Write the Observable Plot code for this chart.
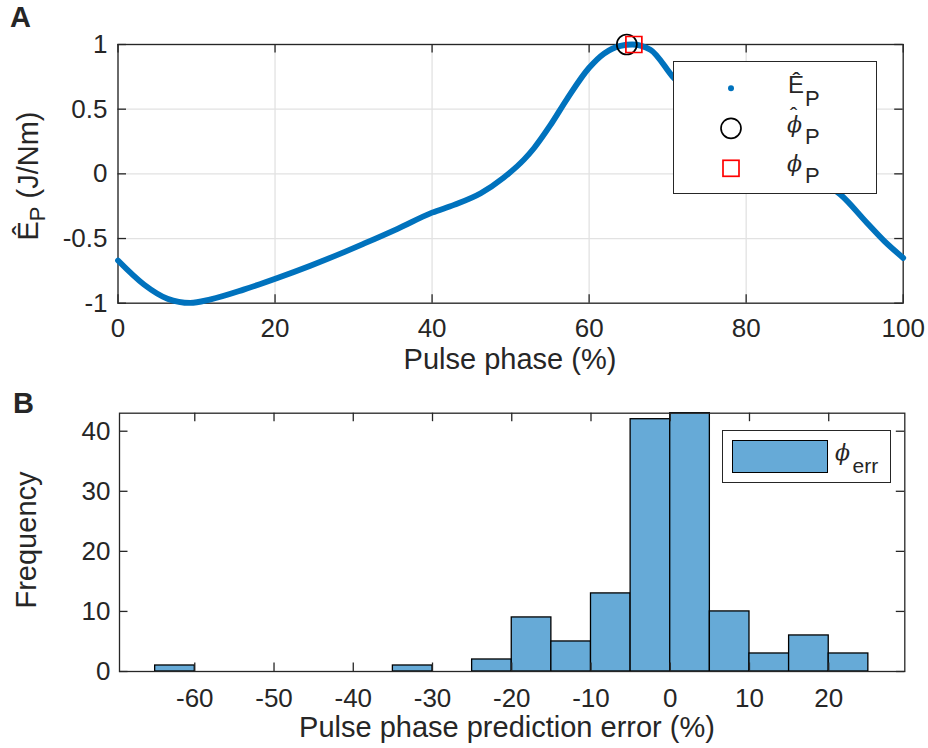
<!DOCTYPE html>
<html><head><meta charset="utf-8">
<script src="https://cdn.jsdelivr.net/npm/d3@7"></script>
<script src="https://cdn.jsdelivr.net/npm/@observablehq/plot@0.6"></script>
<style>
body{margin:0;background:#fff;}
#wrap{position:relative;width:928px;height:748px;overflow:hidden;font-family:"Liberation Sans",Arial,sans-serif;color:#262626;background:#fff;}
.pane{position:absolute;left:0;}
.t{position:absolute;white-space:nowrap;line-height:1;}
.serif{font-family:"DejaVu Serif","Liberation Serif",serif;font-style:italic;}
.box{position:absolute;background:#fff;border:1.3px solid #262626;box-sizing:border-box;}
</style></head><body><div id="wrap"></div>
<script>
// ---------- Data: panel A (energy curve) ----------
const phaseA  = [0, 3.3, 6.3, 9.2, 11.8, 16, 20.3, 24.5, 28.8, 31.3, 35.6, 40, 42.8, 46.2, 49.1, 51.7, 53, 55, 57.2, 60, 61.9, 64, 65.5, 67.8, 70.8, 74, 78, 82, 86, 89, 92, 95.4, 97.6, 100];
const energyA = [-0.67, -0.855, -0.965, -0.998, -0.97, -0.895, -0.805, -0.71, -0.605, -0.54, -0.425, -0.30, -0.24, -0.15, -0.03, 0.11, 0.20, 0.37, 0.58, 0.82, 0.93, 0.99, 1.0, 0.96, 0.74, 0.56, 0.38, 0.22, 0.07, -0.04, -0.16, -0.38, -0.52, -0.65];
const phiHatX = [64.8], phiHatY = [1.0];   // estimated peak
const phiPX   = [65.7], phiPY   = [1.0];   // true peak
const xTicksA = [0, 20, 40, 60, 80, 100];
const yTicksA = [-1, -0.5, 0, 0.5, 1];

// ---------- Data: panel B (histogram) ----------
const binEdges = [-65, -60, -55, -50, -45, -40, -35, -30, -25, -20, -15, -10, -5, 0, 5, 10, 15, 20, 25];
const counts   = [1, 0, 0, 0, 0, 0, 1, 0, 2, 9, 5, 13, 42, 43, 10, 3, 6, 3];
const xTicksB = [-60, -50, -40, -30, -20, -10, 0, 10, 20];
const yTicksB = [0, 10, 20, 30, 40];
const xDomainB = [-69.5, 29.6];
const yDomainB = [0, 43];

const W = 928;
const ink = "#262626";
const fmt = d => String(d);
const tk = 8.5;

// ---- Panel A ----
const A = {h: 380, ml: 117.5, mr: 25.3, mt: 44, mb: 77.3};
const tkXA = tk / (W - A.ml - A.mr) * 100;
const tkYA = tk / (A.h - A.mt - A.mb) * 2;
const curve = phaseA.map((p, i) => ({phase: p, E: energyA[i]}));
const hat = phiHatX.map((x, i) => ({x, y: phiHatY[i]}));
const tru = phiPX.map((x, i) => ({x, y: phiPY[i]}));

const plotA = Plot.plot({
  width: W, height: A.h,
  marginLeft: A.ml, marginRight: A.mr, marginTop: A.mt, marginBottom: A.mb,
  x: {domain: [0, 100]}, y: {domain: [-1, 1]},
  style: {fontFamily: '"Liberation Sans", Arial, sans-serif', fontSize: "26px", color: ink, background: "transparent", overflow: "visible"},
  marks: [
    Plot.gridX(xTicksA, {stroke: "#e2e2e2", strokeOpacity: 1, strokeWidth: 1.3}),
    Plot.gridY(yTicksA, {stroke: "#e2e2e2", strokeOpacity: 1, strokeWidth: 1.3}),
    Plot.frame({stroke: ink, strokeWidth: 1.3}),
    Plot.line(curve, {x: "phase", y: "E", stroke: "#0072bd", strokeWidth: 5.8, curve: "monotone-x"}),
    Plot.ruleX(xTicksA, {x: d => d, y1: -1, y2: -1 + tkYA, stroke: ink, strokeWidth: 1.3}),
    Plot.ruleX(xTicksA, {x: d => d, y1: 1, y2: 1 - tkYA, stroke: ink, strokeWidth: 1.3}),
    Plot.ruleY(yTicksA, {y: d => d, x1: 0, x2: tkXA, stroke: ink, strokeWidth: 1.3}),
    Plot.ruleY(yTicksA, {y: d => d, x1: 100, x2: 100 - tkXA, stroke: ink, strokeWidth: 1.3}),
    Plot.dot(hat, {x: "x", y: "y", r: 10, stroke: "#000", strokeWidth: 1.7, fill: "none"}),
    Plot.dot(tru, {x: "x", y: "y", symbol: "square", r: 9, stroke: "#ff0000", strokeWidth: 1.7, fill: "none"}),
    Plot.axisX(xTicksA, {tickSize: 0, tickPadding: 15.5, fontSize: 26, tickFormat: fmt, label: null, fill: ink}),
    Plot.axisY(yTicksA, {tickSize: 0, tickPadding: 10.5, fontSize: 26, tickFormat: fmt, label: null, fill: ink})
  ]
});

// ---- Panel B ----
const B = {h: 368, ml: 119, mr: 23.7, mt: 32.7, mb: 77};
const tkXB = tk / (W - B.ml - B.mr) * (xDomainB[1] - xDomainB[0]);
const tkYB = tk / (B.h - B.mt - B.mb) * (yDomainB[1] - yDomainB[0]);
const bins = counts.map((n, i) => ({lo: binEdges[i], hi: binEdges[i + 1], n}));

const plotB = Plot.plot({
  width: W, height: B.h,
  marginLeft: B.ml, marginRight: B.mr, marginTop: B.mt, marginBottom: B.mb,
  x: {domain: xDomainB}, y: {domain: yDomainB},
  style: {fontFamily: '"Liberation Sans", Arial, sans-serif', fontSize: "26px", color: ink, background: "transparent", overflow: "visible"},
  marks: [
    Plot.rectY(bins.filter(d => d.n > 0), {x1: "lo", x2: "hi", y: "n", fill: "#66aad7", stroke: "#000", strokeWidth: 1.3}),
    Plot.frame({stroke: ink, strokeWidth: 1.3}),
    Plot.ruleX(xTicksB, {x: d => d, y1: yDomainB[0], y2: yDomainB[0] + tkYB, stroke: ink, strokeWidth: 1.3}),
    Plot.ruleX(xTicksB, {x: d => d, y1: yDomainB[1], y2: yDomainB[1] - tkYB, stroke: ink, strokeWidth: 1.3}),
    Plot.ruleY(yTicksB, {y: d => d, x1: xDomainB[0], x2: xDomainB[0] + tkXB, stroke: ink, strokeWidth: 1.3}),
    Plot.ruleY(yTicksB, {y: d => d, x1: xDomainB[1], x2: xDomainB[1] - tkXB, stroke: ink, strokeWidth: 1.3}),
    Plot.axisX(xTicksB, {tickSize: 0, tickPadding: 17, fontSize: 26, tickFormat: fmt, label: null, fill: ink}),
    Plot.axisY(yTicksB, {tickSize: 0, tickPadding: 9, fontSize: 26, tickFormat: fmt, label: null, fill: ink})
  ]
});

const wrap = document.getElementById("wrap");
function pane(el, top) {
  const d = document.createElement("div");
  d.className = "pane"; d.style.top = top + "px";
  d.appendChild(el); wrap.appendChild(d);
}
pane(plotA, 0);
pane(plotB, 380);

// text helper: left/center anchored, positioned by baseline
function txt(html, x, baseline, size, {align = "left", cls = "", weight = "normal"} = {}) {
  const d = document.createElement("div");
  d.className = "t " + cls;
  d.innerHTML = html;
  d.style.fontSize = size + "px";
  d.style.fontWeight = weight;
  d.style.top = (baseline - 0.8465 * size) + "px";
  d.style.left = x + "px";
  if (align === "center") d.style.transform = "translateX(-50%)";
  wrap.appendChild(d);
  return d;
}
function vtxt(html, cx, cy, size) {
  const d = document.createElement("div");
  d.className = "t";
  d.innerHTML = html;
  d.style.fontSize = size + "px";
  d.style.left = cx + "px";
  d.style.top = cy + "px";
  d.style.transform = "translate(-50%,-50%) rotate(-90deg)";
  wrap.appendChild(d);
}

// panel letters
txt("A", 10, 28, 29, {weight: "bold"});
txt("B", 13, 414, 29, {weight: "bold"});
// axis labels
txt("Pulse phase (%)", 510, 370, 29, {align: "center"});
txt("Pulse phase prediction error (%)", 507, 737.5, 29, {align: "center"});
vtxt('Ê<span style="font-size:22px;position:relative;top:7px">P</span> (J/Nm)', 28, 176, 29);
vtxt("Frequency", 26, 540, 29);

// legend A
const lgA = document.createElement("div");
lgA.className = "box";
Object.assign(lgA.style, {left: "673px", top: "61px", width: "204px", height: "133px"});
wrap.appendChild(lgA);
const ns = "http://www.w3.org/2000/svg";
const sym = document.createElementNS(ns, "svg");
sym.setAttribute("width", W); sym.setAttribute("height", 748);
sym.style.position = "absolute"; sym.style.left = "0"; sym.style.top = "0"; sym.style.pointerEvents = "none";
sym.innerHTML =
  '<circle cx="731" cy="88.3" r="3" fill="#0072bd"/>' +
  '<circle cx="731" cy="128.3" r="10" fill="none" stroke="#000" stroke-width="1.7"/>' +
  '<rect x="723" y="160.3" width="16" height="16" fill="none" stroke="#ff0000" stroke-width="1.7"/>';
wrap.appendChild(sym);
txt("Ê", 788, 93.5, 24);
txt("P", 805, 107, 22);
txt('<span style="position:relative">ϕ<span style="position:absolute;left:3px;top:-7px;font-style:normal;font-family:\'Liberation Sans\',Arial,sans-serif">ˆ</span></span>', 787, 133, 22, {cls: "serif"});
txt("P", 805, 145, 22);
txt("ϕ", 787, 172, 22, {cls: "serif"});
txt("P", 805, 183.5, 22);

// legend B
const lgB = document.createElement("div");
lgB.className = "box";
Object.assign(lgB.style, {left: "722px", top: "430px", width: "169px", height: "53px"});
wrap.appendChild(lgB);
const patch = document.createElement("div");
patch.className = "box";
Object.assign(patch.style, {left: "731.7px", top: "440px", width: "96.6px", height: "32.7px", background: "#66aad7", border: "1.4px solid #000"});
wrap.appendChild(patch);
txt("ϕ", 835, 461, 22, {cls: "serif"});
txt("err", 852.5, 472.5, 21);
</script></body></html>
